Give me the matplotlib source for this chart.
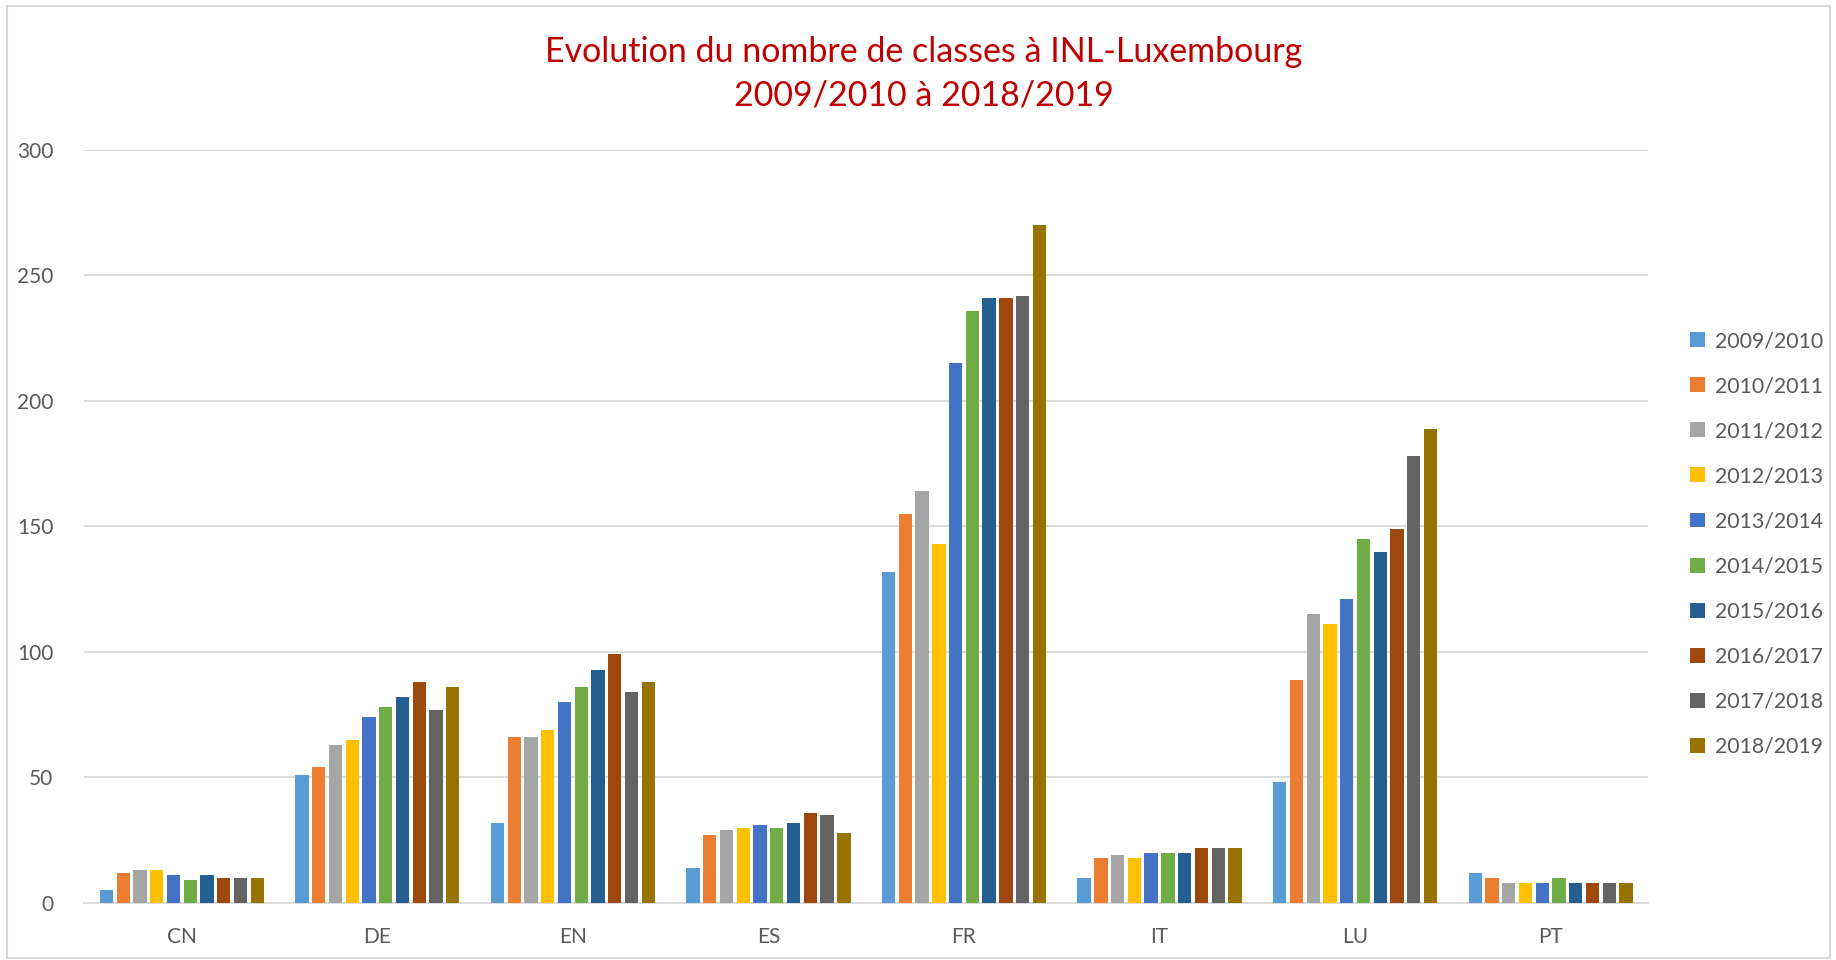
import matplotlib
matplotlib.use('Agg')
import matplotlib.pyplot as plt
import numpy as np
from matplotlib.patches import Rectangle

plt.rcParams['font.family'] = ['Lato', 'DejaVu Sans']

# data
langues = ['CN', 'DE', 'EN', 'ES', 'FR', 'IT', 'LU', 'PT']
annees = ['2009/2010', '2010/2011', '2011/2012', '2012/2013', '2013/2014',
          '2014/2015', '2015/2016', '2016/2017', '2017/2018', '2018/2019']

cn = [5, 12, 13, 13, 11, 9, 11, 10, 10, 10]
de = [51, 54, 63, 65, 74, 78, 82, 88, 77, 86]
en = [32, 66, 66, 69, 80, 86, 93, 99, 84, 88]
es = [14, 27, 29, 30, 31, 30, 32, 36, 35, 28]
fr = [132, 155, 164, 143, 215, 236, 241, 241, 242, 270]
it = [10, 18, 19, 18, 20, 20, 20, 22, 22, 22]
lu = [48, 89, 115, 111, 121, 145, 140, 149, 178, 189]
pt = [12, 10, 8, 8, 8, 10, 8, 8, 8, 8]

couleurs = ['#5B9BD5', '#ED7D31', '#A5A5A5', '#FFC000', '#4472C4',
            '#70AD47', '#255E91', '#9E480E', '#636363', '#997300']

valeurs = np.array([cn, de, en, es, fr, it, lu, pt])  # langue x annee

fig = plt.figure(figsize=(18.36, 9.6), dpi=100)
ax = fig.add_axes([0.0458, 0.0594, 0.852, 0.7844])

x = np.arange(len(langues))
pas = 0.0857
largeur = 0.068
for i, annee in enumerate(annees):
    ax.bar(x + (i - 4.5) * pas, valeurs[:, i], width=largeur,
           color=couleurs[i], label=annee, zorder=3)

ax.set_xlim(-0.5, len(langues) - 0.5)
ax.set_ylim(0, 300)
ax.set_yticks(np.arange(0, 301, 50))
ax.set_xticks(x)
ax.set_xticklabels(langues)
ax.grid(axis='y', color='#D9D9D9', linewidth=1.3, zorder=0)
for s in ['top', 'right', 'left']:
    ax.spines[s].set_visible(False)
ax.spines['bottom'].set_color('#D9D9D9')
ax.spines['bottom'].set_linewidth(1.3)
ax.tick_params(axis='both', length=0, labelsize=15, labelcolor='#595959')
ax.tick_params(axis='y', pad=22)
ax.tick_params(axis='x', pad=17)

fig.text(0.503, 0.963, 'Evolution du nombre de classes à INL-Luxembourg\n2009/2010 à 2018/2019',
         ha='center', va='top', color='#C00000', fontsize=24.5, linespacing=1.45)

fig.legend(loc='upper left', bbox_to_anchor=(0.910, 0.675), frameon=False,
           fontsize=15.3, labelcolor='#595959', handlelength=0.7, handleheight=0.7,
           handletextpad=0.5, labelspacing=1.18)

fig.patches.append(Rectangle((0.004, 0.002), 0.993, 0.992, transform=fig.transFigure,
                             fill=False, edgecolor='#D9D9D9', linewidth=1.5))

fig.savefig('out.png', dpi=100)
